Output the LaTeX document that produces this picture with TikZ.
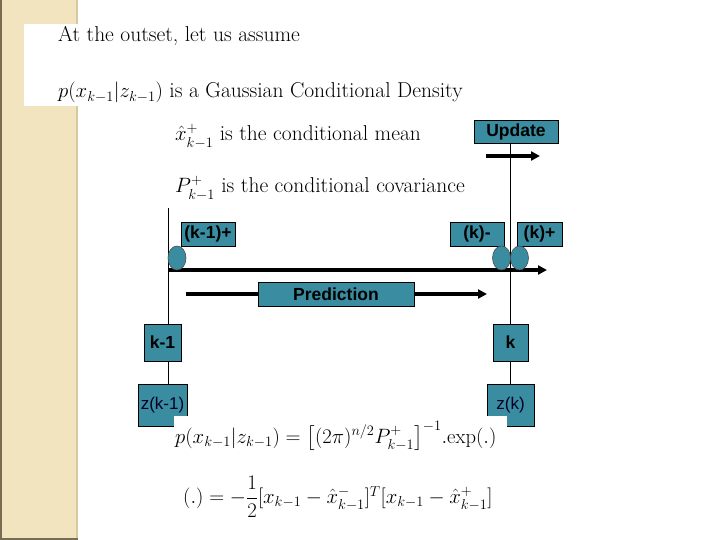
\documentclass[tikz,border=0pt]{standalone}
\usepackage{fontspec}
\usepackage{amsmath}
\newfontfamily\arialfont{Liberation Sans}
\usetikzlibrary{arrows.meta,shapes.geometric}
\definecolor{tealc}{RGB}{58,140,160}
\definecolor{beigec}{RGB}{243,228,192}
\definecolor{beigeedge}{RGB}{216,200,160}
\definecolor{borderc}{RGB}{120,108,84}
\tikzset{
  lab/.style={draw=black, line width=0.7pt, fill=tealc, inner sep=0pt, font=\arialfont\bfseries\fontsize{17.5}{19}\selectfont},
  labr/.style={draw=black, line width=0.7pt, fill=tealc, inner sep=0pt, font=\arialfont\fontsize{17}{19}\selectfont, text=black!85!blue},
  blob/.style={ellipse, draw=black!70, line width=0.6pt, fill=tealc, minimum width=18pt, minimum height=24pt, inner sep=0pt},
  txt/.style={anchor=base west, inner sep=0pt, font=\fontsize{21.5}{25}\selectfont},
  ftxt/.style={anchor=base west, inner sep=0pt, font=\fontsize{20.6}{24}\selectfont},
  thick4/.style={line width=4pt, -{Triangle[length=9pt,width=9pt]}},
  thin1/.style={line width=0.9pt, draw=black}
}
\begin{document}
\begin{tikzpicture}[x=1pt,y=-1pt]
\useasboundingbox (0,0) rectangle (720,540);
% left decorative strip
\fill[white] (0,0) rectangle (720,540);
\fill[beigec] (0,0) rectangle (78,540);
\fill[beigeedge] (76,0) rectangle (78,540);
\draw[borderc, line width=2pt] (1,0) -- (1,539) -- (78,539);
% white patch behind top text
\fill[white] (24,24) rectangle (480,106);
% texts
\node[txt] (t1) at (58,42) {At the outset, let us assume};
\node[txt] (t2) at (58,98) {$p(x_{k-1}|z_{k-1})$ is a Gaussian Conditional Density};
\node[txt] (t3) at (175,141) {$\hat{x}^{+}_{k-1}$ is the conditional mean};
\node[txt] (t4) at (175,193) {$P^{+}_{k-1}$ is the conditional covariance};
% coordinates
\coordinate (lx) at (168,208);
\coordinate (rx) at (510,0);
\coordinate (ma) at (168,270);
\coordinate (mb) at (547,270);
\coordinate (pa) at (186,294);
\coordinate (pb) at (487,294);
\coordinate (ua) at (486,156);
\coordinate (ub) at (540,156);
% boxes
\node[lab, minimum width=84pt, minimum height=23pt] (upd) at (516,131.5) {Update};
\node[lab, minimum width=37pt, minimum height=37pt] (k1) at (162.5,342.5) {k-1};
\node[lab, minimum width=35pt, minimum height=37pt] (k) at (510.5,342.5) {k};
\node[labr, minimum width=49pt, minimum height=42pt] (zk1) at (162.5,405) {z(k-1)};
\node[labr, minimum width=47pt, minimum height=42pt] (zk) at (510.5,405) {z(k)};
% vertical lines
\draw[thin1] (lx) -- (lx |- k1.north);
\draw[thin1] (k1.south -| lx) -- (lx |- zk1.north);
\draw[thin1] (upd.south -| rx) -- (rx |- k.north);
\draw[thin1] (k.south -| rx) -- (rx |- zk.north);
% arrows
\draw[thick4] (ma) -- (mb);
\draw[thick4] (pa) -- (pb);
\draw[thick4] (ua) -- (ub);
% labels along the line
\node[lab, minimum width=54pt, minimum height=24pt] (km1p) at (208,234) {(k-1)+};
\node[lab, minimum width=54pt, minimum height=24pt] (km) at (477,234) {(k)-};
\node[lab, minimum width=45pt, minimum height=24pt] (kp) at (539.5,234) {(k)+};
\node[lab, minimum width=156pt, minimum height=24pt] (pred) at (336,294) {Prediction};
\node[blob] (e1) at (177,258) {};
\node[blob] (e2) at (501.5,258) {};
\node[blob] (e3) at (519.5,258) {};
% white patch of formulas
\fill[white] (174,416) rectangle (507,525);
\node[ftxt] (f1) at (175,443) {$p(x_{k-1}|z_{k-1}) = \bigl[(2\pi)^{n/2}P^{+}_{k-1}\bigr]^{-1}{.}\mathrm{exp}(.)$};
\node[ftxt, anchor=west] (f2) at (183,497) {$(.) = -\dfrac{1}{2}[x_{k-1}-\hat{x}^{-}_{k-1}]^{T}[x_{k-1}-\hat{x}^{+}_{k-1}]$};
\end{tikzpicture}
\end{document}
